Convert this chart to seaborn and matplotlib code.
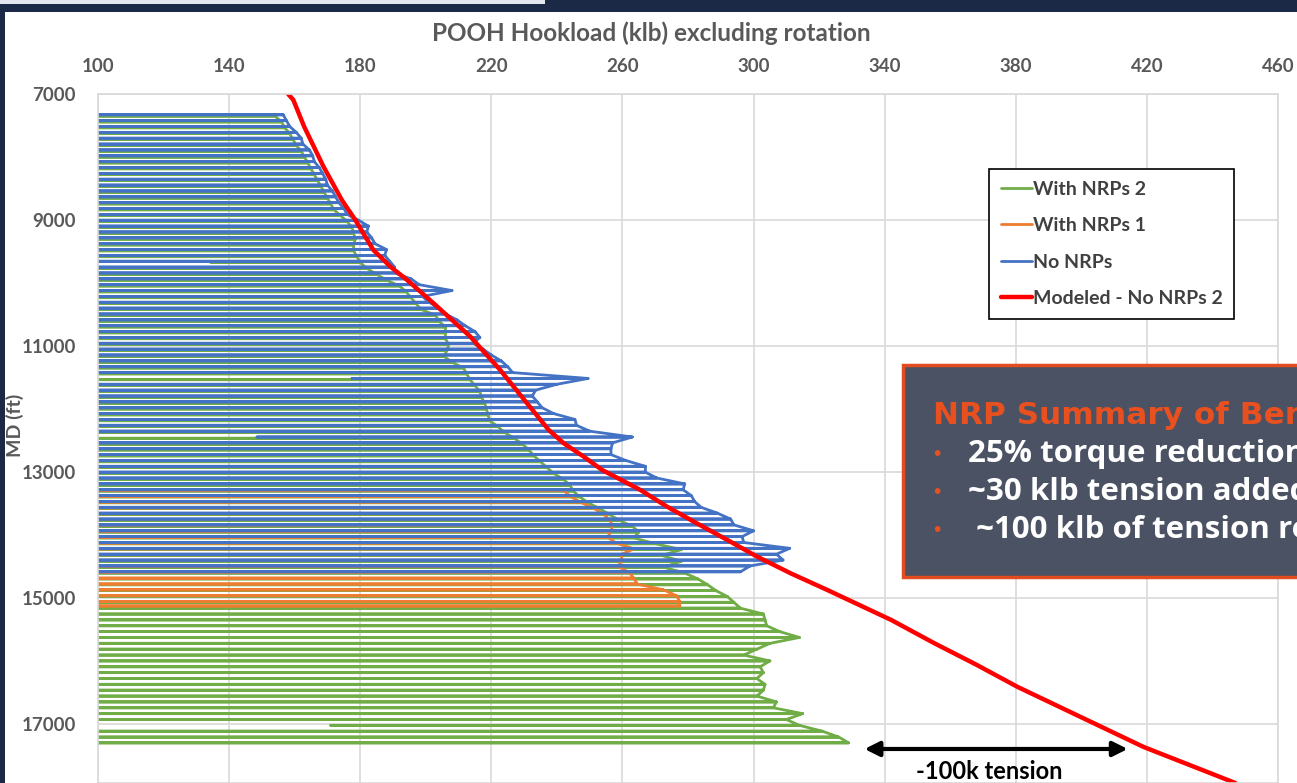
import numpy as np
import pandas as pd
import matplotlib
matplotlib.use("Agg")
import matplotlib.pyplot as plt
from matplotlib.patches import Rectangle
import seaborn as sns

# ---------------- data ----------------
SLIPS_KLB = 60  # hookload while in slips (off the left of the axis)

blue_depth = [7330, 7423, 7516, 7609, 7702, 7795, 7888, 7981, 8074, 8167,
              8260, 8353, 8446, 8539, 8632, 8725, 8818, 8911, 9004, 9097,
              9190, 9283, 9376, 9469, 9562, 9655, 9748, 9841, 9934, 10027,
              10120, 10213, 10306, 10399, 10492, 10585, 10678, 10771, 10864, 10957,
              11050, 11143, 11236, 11329, 11422, 11515, 11608, 11701, 11794, 11887,
              11980, 12073, 12166, 12259, 12352, 12445, 12538, 12631, 12724, 12817,
              12910, 13003, 13096, 13189, 13282, 13375, 13468, 13561, 13654, 13747,
              13840, 13933, 14026, 14119, 14212, 14305, 14398, 14491, 14584]
blue_klb = [156.5, 157.5, 158.5, 160.5, 162, 162.5, 164.5, 165.5, 166, 167.5,
            168.5, 169.5, 170, 171.5, 172.5, 173.5, 175, 176, 179.5, 182.5,
            182, 183.5, 184.5, 188, 187.5, 189, 190.5, 190.5, 195.5, 198,
            208, 199, 201, 204, 206, 209.5, 212, 215, 216.5, 214.5,
            217.5, 220, 223, 225, 226.5, 249.5, 240, 233.5, 232.5, 234,
            235.5, 239, 245.5, 246, 250, 263, 257, 256.5, 256.5, 261,
            267, 267, 270.5, 279, 278.5, 281, 282, 284, 289, 293,
            294, 300, 296.5, 297, 311, 307, 309, 299, 296]
blue_partial_depth = [11515, 12445]
blue_partial_klb = [177.5, 148.5]

green_depth = [7350, 7443, 7536, 7629, 7722, 7815, 7908, 8001, 8094, 8187,
               8280, 8373, 8466, 8559, 8652, 8745, 8838, 8931, 9024, 9117,
               9210, 9303, 9396, 9489, 9582, 9675, 9768, 9861, 9954, 10047,
               10140, 10233, 10326, 10419, 10512, 10605, 10698, 10791, 10884, 10977,
               11070, 11163, 11256, 11349, 11442, 11535, 11628, 11721, 11814, 11907,
               12000, 12093, 12186, 12279, 12372, 12465, 12558, 12651, 12744, 12837,
               12930, 13023, 13116, 13209, 13302, 13395, 13488, 13581, 13674, 13767,
               13860, 13953, 14046, 14139, 14232, 14325, 14418, 14511, 14604, 14697,
               14790, 14883, 14976, 15069, 15162, 15255, 15348, 15441, 15534, 15627,
               15720, 15813, 15906, 15999, 16092, 16185, 16278, 16371, 16464, 16557,
               16650, 16743, 16836, 16929, 17022, 17115, 17208, 17300]
green_klb = [154, 156, 157, 158.5, 159.5, 160.5, 162, 163, 164, 165,
             166, 167, 168, 169, 170, 171, 172, 174, 176, 177.5,
             178, 178.5, 178, 178, 179, 180, 182, 185, 188, 192,
             194, 195.5, 197, 198.5, 203, 204, 206, 206, 206, 207,
             206.5, 205.5, 208, 211.5, 212.5, 213.5, 215, 216.5, 217, 218,
             218.5, 219, 219.5, 222, 224, 227, 229.5, 231.5, 233, 235,
             237, 239, 242, 244, 245, 247, 249.5, 253, 256, 259,
             263, 265, 263.5, 270, 278, 272, 278, 272.5, 279, 283,
             286, 288.5, 292, 294, 296, 303, 303.5, 304, 308, 314,
             305, 301, 297, 305, 302, 303, 301, 303.5, 303, 301,
             307, 306, 315, 310, 314, 321, 326, 329]
green_partial_depth = [9675, 17022]
green_partial_klb = [134.5, 171]

orange_depth = [13290, 13383, 13476, 13569, 13662, 13755, 13848, 13941, 14034, 14127,
                14220, 14313, 14406, 14499, 14592, 14685, 14778, 14871, 14964, 15057, 15127]
orange_klb = [242, 244, 247, 251, 254, 256, 257, 256.5, 255.5, 258,
              263.5, 259.5, 260, 258.5, 262, 263.5, 264.5, 272.5, 276.5, 277.5, 277.5]

model_depth = [7000, 7095, 7519, 8153, 8683, 9000, 9476, 9741, 9952, 10323,
               10852, 11381, 11910, 12333, 12545, 12757, 12968, 13286, 13550, 13815,
               14079, 14344, 14608, 14873, 15349, 15714, 16060, 16413, 16889, 17365, 17937]
model_klb = [158, 159.6, 162.9, 168.8, 174.4, 178.5, 184, 189.2, 194.3, 202.4,
             213.6, 222.7, 230.9, 237.5, 242.1, 248.2, 253.8, 265.5, 273.6, 282.7,
             292, 301.1, 311.3, 322.5, 342, 355, 368, 380.6, 399.8, 419, 447]

x_ticks = [100, 140, 180, 220, 260, 300, 340, 380, 420, 460]
y_ticks = [7000, 9000, 11000, 13000, 15000, 17000]

labels = ["With NRPs 2", "With NRPs 1", "No NRPs", "Modeled - No NRPs 2"]
colors = ["#70AD47", "#ED7D31", "#4472C4", "#FF0000"]


def trip_trace(depths, klbs, partial_depths, partial_klbs):
    """Interleave pulling readings with in-slips readings at each connection."""
    low = dict(zip(partial_depths, partial_klbs))
    rows = []
    for d, h in zip(depths, klbs):
        rows += [(h, d), (low.get(d, SLIPS_KLB), d), (h, d)]
    return pd.DataFrame(rows, columns=["klb", "depth"])


df_green = trip_trace(green_depth, green_klb, green_partial_depth, green_partial_klb)
df_orange = trip_trace(orange_depth, orange_klb, [], [])
df_blue = trip_trace(blue_depth, blue_klb, blue_partial_depth, blue_partial_klb)
df_model = pd.DataFrame({"klb": model_klb, "depth": model_depth})

# ---------------- figure ----------------
sns.set_theme(style="whitegrid")
plt.rcParams["font.family"] = ["Lato", "DejaVu Sans"]

W, H = 1297, 783
fig = plt.figure(figsize=(W / 100, H / 100), dpi=100, facecolor="#1b2846")
# slide panel
fig.add_artist(Rectangle((5 / W, 0), 1, (H - 12) / H, transform=fig.transFigure,
                         facecolor="white", edgecolor="none", zorder=-2))
fig.add_artist(Rectangle((0, 1 - 4 / H), 545 / W, 4 / H, transform=fig.transFigure,
                         facecolor="#e3e6ec", edgecolor="none", zorder=-2))

ax = fig.add_axes([98 / W, 0, (1278 - 98) / W, (H - 94) / H])
ax.set_facecolor("white")

sns.lineplot(data=df_green, x="klb", y="depth", sort=False, estimator=None,
             color=colors[0], lw=2.1, ax=ax, label=labels[0])
sns.lineplot(data=df_orange, x="klb", y="depth", sort=False, estimator=None,
             color=colors[1], lw=2.2, ax=ax, label=labels[1])
sns.lineplot(data=df_blue, x="klb", y="depth", sort=False, estimator=None,
             color=colors[2], lw=2.4, ax=ax, label=labels[2])
sns.lineplot(data=df_model, x="klb", y="depth", sort=False, estimator=None,
             color=colors[3], lw=3.0, ax=ax, label=labels[3])

ax.set_xlim(100, 460)
ax.set_ylim(17937, 7000)
ax.set_xticks(x_ticks)
ax.set_yticks(y_ticks)
ax.set_xticklabels([str(v) for v in x_ticks])
ax.set_yticklabels([str(v) for v in y_ticks])
ax.xaxis.tick_top()
ax.set_xlabel("")
ax.set_ylabel("")
ax.grid(True, color="#d9d9d9", lw=1.2)
for s in ax.spines.values():
    s.set_color("#d9d9d9")
    s.set_linewidth(1.2)
ax.tick_params(axis="x", length=0, pad=14, labelsize=13.5, labelcolor="#595959")
ax.tick_params(axis="y", length=0, pad=16, labelsize=13.5, labelcolor="#595959")
for t in ax.get_xticklabels() + ax.get_yticklabels():
    t.set_fontweight("bold")

# legend
handles, labs = ax.get_legend_handles_labels()
for h in handles:
    h.set_linewidth(2.0 if h.get_label() != labels[3] else 3.2)
leg = ax.legend(handles, labs, loc="upper left",
                bbox_to_anchor=(989 / W, 1 - 169 / H), bbox_transform=fig.transFigure,
                frameon=True, fancybox=False, edgecolor="black", framealpha=1,
                fontsize=14, handlelength=1.6, handletextpad=0.05,
                labelspacing=1.0, borderpad=0.6, borderaxespad=0)
leg.get_frame().set_linewidth(1.2)
for t in leg.get_texts():
    t.set_color("#404040")
    t.set_fontweight("bold")

# title and y label
fig.text(651 / W, 1 - 33 / H, "POOH Hookload (klb) excluding rotation",
         ha="center", va="center", fontsize=17.5, color="#595959", fontweight="bold")
fig.text(15 / W, 1 - 425 / H, "MD (ft)", ha="center", va="center", rotation=90,
         fontsize=14, color="#595959", fontweight="bold")

# -100k tension arrow
ax.annotate("", xy=(333, 17397), xytext=(415, 17397),
            arrowprops=dict(arrowstyle="<|-|>", color="black", lw=3, mutation_scale=22))
ax.text(372, 17762, "-100k tension", ha="center", va="center", fontsize=17,
        fontweight="bold", color="black")

# summary box (runs off the right edge of the slide, as in the reference)
fig.add_artist(Rectangle((903 / W, 1 - 577 / H), 0.5, (577 - 365) / H,
                         transform=fig.transFigure, facecolor="#4b5263",
                         edgecolor="#e34c20", lw=2.5, zorder=5))
fig.text(933 / W, 1 - 424 / H, "NRP Summary of Benefits", ha="left", va="baseline",
         fontsize=22.4, color="#e8501f", fontweight="bold", family="DejaVu Sans", zorder=6)
bullets = ["25% torque reduction", "~30 klb tension added", " ~100 klb of tension reduction"]
bullet_base = [462, 500, 538]
for txt, yy in zip(bullets, bullet_base):
    fig.text(937 / W, 1 - (yy - 8) / H, "\u2022", ha="center", va="center",
             fontsize=14, color="#e8501f", zorder=6, family="DejaVu Sans")
    fig.text(968 / W, 1 - yy / H, txt, ha="left", va="baseline", fontsize=22.5,
             color="white", fontweight="bold", family="Open Sans", zorder=6)

fig.savefig("out.png", dpi=100, facecolor=fig.get_facecolor())
